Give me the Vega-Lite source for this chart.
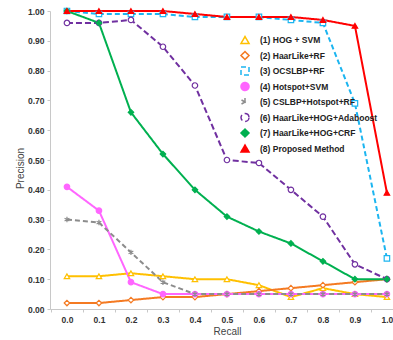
{
  "$schema": "https://vega.github.io/schema/vega-lite/v6.json",
  "autosize": {"type": "none"},
  "width": 343,
  "height": 298,
  "padding": {"left": 50, "top": 11, "right": 0, "bottom": 31},
  "background": "white",
  "config": {
    "view": {"stroke": null},
    "font": "Liberation Sans",
    "axis": {"labelFont": "Liberation Sans", "labelFontWeight": "bold", "labelFontSize": 8.5, "labelColor": "#333", "domainColor": "#c8c8c8", "tickColor": "#c8c8c8", "grid": false, "titleFont": "Liberation Sans", "titleFontSize": 10, "titleColor": "#444", "titleFontWeight": "normal"},
    "legend": {"orient": "none", "legendX": 190, "legendY": 24, "title": null, "padding": 0, "symbolSize": 64, "symbolStrokeWidth": 1.5, "labelFont": "Liberation Sans", "labelFontWeight": "bold", "labelFontSize": 8.5, "labelColor": "#222", "labelOffset": 10, "rowPadding": 1.5, "labelLimit": 200}
  },
  "data": {"values": [
    {"recall":0.0,"precision":0.11,"series":"(1) HOG + SVM"},{"recall":0.1,"precision":0.11,"series":"(1) HOG + SVM"},{"recall":0.2,"precision":0.12,"series":"(1) HOG + SVM"},{"recall":0.3,"precision":0.11,"series":"(1) HOG + SVM"},{"recall":0.4,"precision":0.10,"series":"(1) HOG + SVM"},{"recall":0.5,"precision":0.10,"series":"(1) HOG + SVM"},{"recall":0.6,"precision":0.08,"series":"(1) HOG + SVM"},{"recall":0.7,"precision":0.04,"series":"(1) HOG + SVM"},{"recall":0.8,"precision":0.07,"series":"(1) HOG + SVM"},{"recall":0.9,"precision":0.05,"series":"(1) HOG + SVM"},{"recall":1.0,"precision":0.04,"series":"(1) HOG + SVM"},
    {"recall":0.0,"precision":0.02,"series":"(2) HaarLike+RF"},{"recall":0.1,"precision":0.02,"series":"(2) HaarLike+RF"},{"recall":0.2,"precision":0.03,"series":"(2) HaarLike+RF"},{"recall":0.3,"precision":0.04,"series":"(2) HaarLike+RF"},{"recall":0.4,"precision":0.04,"series":"(2) HaarLike+RF"},{"recall":0.5,"precision":0.05,"series":"(2) HaarLike+RF"},{"recall":0.6,"precision":0.06,"series":"(2) HaarLike+RF"},{"recall":0.7,"precision":0.07,"series":"(2) HaarLike+RF"},{"recall":0.8,"precision":0.08,"series":"(2) HaarLike+RF"},{"recall":0.9,"precision":0.09,"series":"(2) HaarLike+RF"},{"recall":1.0,"precision":0.10,"series":"(2) HaarLike+RF"},
    {"recall":0.0,"precision":1.00,"series":"(3) OCSLBP+RF"},{"recall":0.1,"precision":0.99,"series":"(3) OCSLBP+RF"},{"recall":0.2,"precision":0.99,"series":"(3) OCSLBP+RF"},{"recall":0.3,"precision":0.99,"series":"(3) OCSLBP+RF"},{"recall":0.4,"precision":0.98,"series":"(3) OCSLBP+RF"},{"recall":0.5,"precision":0.98,"series":"(3) OCSLBP+RF"},{"recall":0.6,"precision":0.98,"series":"(3) OCSLBP+RF"},{"recall":0.7,"precision":0.97,"series":"(3) OCSLBP+RF"},{"recall":0.8,"precision":0.96,"series":"(3) OCSLBP+RF"},{"recall":0.9,"precision":0.69,"series":"(3) OCSLBP+RF"},{"recall":1.0,"precision":0.17,"series":"(3) OCSLBP+RF"},
    {"recall":0.0,"precision":0.41,"series":"(4) Hotspot+SVM"},{"recall":0.1,"precision":0.33,"series":"(4) Hotspot+SVM"},{"recall":0.2,"precision":0.09,"series":"(4) Hotspot+SVM"},{"recall":0.3,"precision":0.05,"series":"(4) Hotspot+SVM"},{"recall":0.4,"precision":0.05,"series":"(4) Hotspot+SVM"},{"recall":0.5,"precision":0.05,"series":"(4) Hotspot+SVM"},{"recall":0.6,"precision":0.05,"series":"(4) Hotspot+SVM"},{"recall":0.7,"precision":0.05,"series":"(4) Hotspot+SVM"},{"recall":0.8,"precision":0.05,"series":"(4) Hotspot+SVM"},{"recall":0.9,"precision":0.05,"series":"(4) Hotspot+SVM"},{"recall":1.0,"precision":0.05,"series":"(4) Hotspot+SVM"},
    {"recall":0.0,"precision":0.30,"series":"(5) CSLBP+Hotspot+RF"},{"recall":0.1,"precision":0.29,"series":"(5) CSLBP+Hotspot+RF"},{"recall":0.2,"precision":0.19,"series":"(5) CSLBP+Hotspot+RF"},{"recall":0.3,"precision":0.09,"series":"(5) CSLBP+Hotspot+RF"},{"recall":0.4,"precision":0.05,"series":"(5) CSLBP+Hotspot+RF"},{"recall":0.5,"precision":0.05,"series":"(5) CSLBP+Hotspot+RF"},{"recall":0.6,"precision":0.05,"series":"(5) CSLBP+Hotspot+RF"},{"recall":0.7,"precision":0.05,"series":"(5) CSLBP+Hotspot+RF"},{"recall":0.8,"precision":0.05,"series":"(5) CSLBP+Hotspot+RF"},{"recall":0.9,"precision":0.05,"series":"(5) CSLBP+Hotspot+RF"},{"recall":1.0,"precision":0.05,"series":"(5) CSLBP+Hotspot+RF"},
    {"recall":0.0,"precision":0.96,"series":"(6) HaarLike+HOG+Adaboost"},{"recall":0.1,"precision":0.96,"series":"(6) HaarLike+HOG+Adaboost"},{"recall":0.2,"precision":0.97,"series":"(6) HaarLike+HOG+Adaboost"},{"recall":0.3,"precision":0.88,"series":"(6) HaarLike+HOG+Adaboost"},{"recall":0.4,"precision":0.75,"series":"(6) HaarLike+HOG+Adaboost"},{"recall":0.5,"precision":0.50,"series":"(6) HaarLike+HOG+Adaboost"},{"recall":0.6,"precision":0.49,"series":"(6) HaarLike+HOG+Adaboost"},{"recall":0.7,"precision":0.40,"series":"(6) HaarLike+HOG+Adaboost"},{"recall":0.8,"precision":0.31,"series":"(6) HaarLike+HOG+Adaboost"},{"recall":0.9,"precision":0.15,"series":"(6) HaarLike+HOG+Adaboost"},{"recall":1.0,"precision":0.10,"series":"(6) HaarLike+HOG+Adaboost"},
    {"recall":0.0,"precision":1.00,"series":"(7) HaarLike+HOG+CRF"},{"recall":0.1,"precision":0.96,"series":"(7) HaarLike+HOG+CRF"},{"recall":0.2,"precision":0.66,"series":"(7) HaarLike+HOG+CRF"},{"recall":0.3,"precision":0.52,"series":"(7) HaarLike+HOG+CRF"},{"recall":0.4,"precision":0.40,"series":"(7) HaarLike+HOG+CRF"},{"recall":0.5,"precision":0.31,"series":"(7) HaarLike+HOG+CRF"},{"recall":0.6,"precision":0.26,"series":"(7) HaarLike+HOG+CRF"},{"recall":0.7,"precision":0.22,"series":"(7) HaarLike+HOG+CRF"},{"recall":0.8,"precision":0.16,"series":"(7) HaarLike+HOG+CRF"},{"recall":0.9,"precision":0.10,"series":"(7) HaarLike+HOG+CRF"},{"recall":1.0,"precision":0.10,"series":"(7) HaarLike+HOG+CRF"},
    {"recall":0.0,"precision":1.00,"series":"(8) Proposed Method"},{"recall":0.1,"precision":1.00,"series":"(8) Proposed Method"},{"recall":0.2,"precision":1.00,"series":"(8) Proposed Method"},{"recall":0.3,"precision":1.00,"series":"(8) Proposed Method"},{"recall":0.4,"precision":0.99,"series":"(8) Proposed Method"},{"recall":0.5,"precision":0.98,"series":"(8) Proposed Method"},{"recall":0.6,"precision":0.98,"series":"(8) Proposed Method"},{"recall":0.7,"precision":0.98,"series":"(8) Proposed Method"},{"recall":0.8,"precision":0.97,"series":"(8) Proposed Method"},{"recall":0.9,"precision":0.95,"series":"(8) Proposed Method"},{"recall":1.0,"precision":0.39,"series":"(8) Proposed Method"}
  ]},
  "encoding": {
    "x": {"field": "recall", "type": "quantitative", "scale": {"domain": [-0.053, 1.019], "nice": false, "zero": false},
      "axis": {"title": "Recall", "values": [0,0.1,0.2,0.3,0.4,0.5,0.6,0.7,0.8,0.9,1.0], "format": ".1f", "tickOffset": -16, "labelOffset": 16, "tickSize": 3, "labelPadding": 3, "titleX": 177, "titleY": 17, "labelFlush": false}},
    "y": {"field": "precision", "type": "quantitative", "scale": {"domain": [0, 1], "nice": false},
      "axis": {"title": "Precision", "values": [0,0.1,0.2,0.3,0.4,0.5,0.6,0.7,0.8,0.9,1.0], "format": ".2f", "tickSize": 3, "labelPadding": 3, "titleX": -30, "titleY": 157, "titleAngle": -90, "titleAlign": "center", "titleBaseline": "middle"}}
  },
  "layer": [
    {
      "mark": {"type": "line", "strokeWidth": 2},
      "encoding": {
        "stroke": {"field": "series", "type": "nominal", "scale": {"domain": ["(1) HOG + SVM","(2) HaarLike+RF","(3) OCSLBP+RF","(4) Hotspot+SVM","(5) CSLBP+Hotspot+RF","(6) HaarLike+HOG+Adaboost","(7) HaarLike+HOG+CRF","(8) Proposed Method"], "range": ["#FFC000","#F47A22","#1CB5F0","#FF66FF","#8C8C8C","#7030A0","#00B050","#FF0000"]}},
        "strokeDash": {"field": "series", "type": "nominal", "scale": {"domain": ["(1) HOG + SVM","(2) HaarLike+RF","(3) OCSLBP+RF","(4) Hotspot+SVM","(5) CSLBP+Hotspot+RF","(6) HaarLike+HOG+Adaboost","(7) HaarLike+HOG+CRF","(8) Proposed Method"], "range": [[1,0],[1,0],[5,3],[1,0],[5,3],[6,3],[1,0],[1,0]]}}
      }
    },
    {
      "mark": {"type": "point", "size": 30, "strokeWidth": 1.2, "opacity": 1},
      "encoding": {
        "stroke": {"field": "series", "type": "nominal"},
        "fill": {"field": "series", "type": "nominal", "scale": {"domain": ["(1) HOG + SVM","(2) HaarLike+RF","(3) OCSLBP+RF","(4) Hotspot+SVM","(5) CSLBP+Hotspot+RF","(6) HaarLike+HOG+Adaboost","(7) HaarLike+HOG+CRF","(8) Proposed Method"], "range": ["#FFFFFF","#FFFFFF","#FFFFFF","#FF66FF","#FFFFFF","#FFFFFF","#00B050","#FF0000"]}},
        "shape": {"field": "series", "type": "nominal", "scale": {"domain": ["(1) HOG + SVM","(2) HaarLike+RF","(3) OCSLBP+RF","(4) Hotspot+SVM","(5) CSLBP+Hotspot+RF","(6) HaarLike+HOG+Adaboost","(7) HaarLike+HOG+CRF","(8) Proposed Method"], "range": ["triangle-up","diamond","square","circle","M0,-1V1M-0.87,-0.5L0.87,0.5M-0.87,0.5L0.87,-0.5","circle","diamond","triangle-up"]}}
      }
    }
  ]
}
